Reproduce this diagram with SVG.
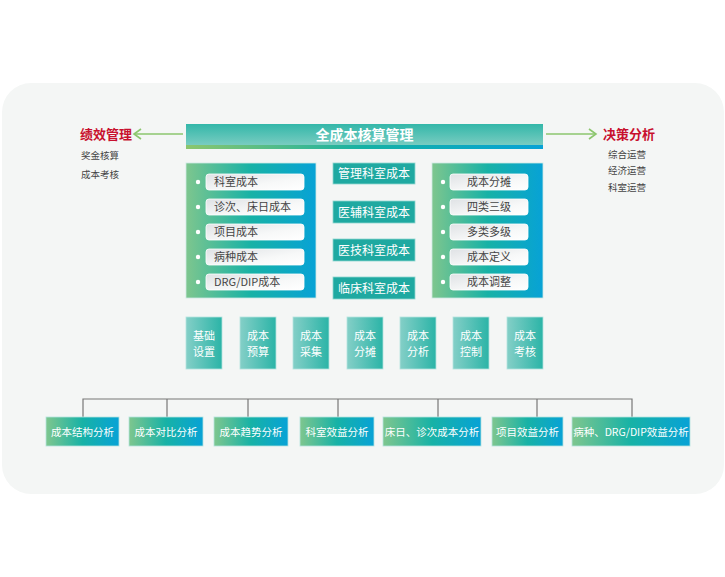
<svg xmlns="http://www.w3.org/2000/svg" width="725" height="577" viewBox="0 0 725 577">
<defs>
<linearGradient id="gPanel" x1="0" y1="0" x2="1" y2="0">
<stop offset="0" stop-color="#7ec68e"/><stop offset="0.5" stop-color="#17b2a6"/><stop offset="1" stop-color="#07a2d6"/>
</linearGradient>
<linearGradient id="gTitle" x1="0" y1="0" x2="0" y2="1">
<stop offset="0" stop-color="#33b7a9"/><stop offset="1" stop-color="#7ccdc2"/>
</linearGradient>
<linearGradient id="gStrip" x1="0" y1="0" x2="1" y2="0">
<stop offset="0" stop-color="#8cc66e"/><stop offset="0.5" stop-color="#15b1a4"/><stop offset="1" stop-color="#07a2d6"/>
</linearGradient>
<linearGradient id="gStep" x1="0" y1="0" x2="1" y2="0">
<stop offset="0" stop-color="#84cfc7"/><stop offset="1" stop-color="#2bb4a7"/>
</linearGradient>
<linearGradient id="gPill" x1="0" y1="0" x2="1" y2="1">
<stop offset="0" stop-color="#dfe2e5"/><stop offset="0.6" stop-color="#f7f8f8"/><stop offset="1" stop-color="#ffffff"/>
</linearGradient>
<marker id="arr" markerWidth="10" markerHeight="12" refX="8" refY="6" orient="auto" markerUnits="userSpaceOnUse">
<path d="M1,1 L8,6 L1,11" fill="none" stroke="#8cc66e" stroke-width="1.6"/>
</marker>
</defs>
<style>
text{font-family:"Noto Sans CJK SC","Noto Sans",sans-serif;}
.head{font-size:13px;font-weight:bold;fill:#c8102e;}
.sub{font-size:9.5px;fill:#444;}
.pill{fill:url(#gPill);stroke:#ffffff;stroke-width:0.8;}
.pt{font-size:11px;fill:#444;}
.dot{fill:#ffffff;}
.mid{fill:#1fa9a1;stroke:#8fd6cf;stroke-width:0.8;}
.wt{fill:#ffffff;font-size:12px;}
.st{fill:#ffffff;font-size:11px;}
.step{fill:url(#gStep);stroke:#b4e3de;stroke-width:0.8;}
.bot{fill:url(#gPanel);stroke:#b4e3de;stroke-width:0.8;}
.bt{fill:#ffffff;font-size:10.5px;}
.conn{stroke:#777;stroke-width:1.2;fill:none;}
.arrow{stroke:#8cc66e;stroke-width:1.6;fill:none;}
</style>
<rect x="0" y="0" width="725" height="577" fill="#ffffff"/>
<rect id="card" x="2" y="83" width="722" height="411" rx="29" fill="#f4f6f5"/>

<g id="title">
<rect x="186" y="124" width="357" height="22" fill="url(#gTitle)"/>
<rect x="186" y="145" width="357" height="4" fill="url(#gStrip)"/>
<text x="364.5" y="139.5" text-anchor="middle" fill="#ffffff" font-size="14" font-weight="bold">全成本核算管理</text>
</g>

<g id="connectors">
<line class="arrow" x1="183" y1="134" x2="134" y2="134" marker-end="url(#arr)"/>
<line class="arrow" x1="546" y1="134" x2="596" y2="134" marker-end="url(#arr)"/>
<path class="conn" d="M83,417 V399 H632 V417 M167,399 V417 M248,399 V417 M338,399 V417 M438,399 V417 M537,399 V417"/>
</g>

<g id="perf">
<text class="head" x="80" y="139">绩效管理</text>
<text class="sub" x="81" y="158.5">奖金核算</text>
<text class="sub" x="81" y="177.5">成本考核</text>
</g>
<g id="decision">
<text class="head" x="603" y="139">决策分析</text>
<text class="sub" x="608" y="157.5">综合运营</text>
<text class="sub" x="608" y="173.5">经济运营</text>
<text class="sub" x="608" y="190.5">科室运营</text>
</g>

<g id="leftPanel">
<rect x="186" y="163" width="130" height="135" fill="url(#gPanel)" stroke="#cde9e4" stroke-width="0.8"/>
<circle class="dot" cx="198" cy="182" r="2.2"/><rect class="pill" x="206" y="174" width="98" height="16" rx="3"/><text class="pt" x="214" y="186">科室成本</text>
<circle class="dot" cx="198" cy="207" r="2.2"/><rect class="pill" x="206" y="199" width="98" height="16" rx="3"/><text class="pt" x="214" y="211">诊次、床日成本</text>
<circle class="dot" cx="198" cy="232" r="2.2"/><rect class="pill" x="206" y="224" width="98" height="16" rx="3"/><text class="pt" x="214" y="236">项目成本</text>
<circle class="dot" cx="198" cy="257" r="2.2"/><rect class="pill" x="206" y="249" width="98" height="16" rx="3"/><text class="pt" x="214" y="261">病种成本</text>
<circle class="dot" cx="198" cy="282" r="2.2"/><rect class="pill" x="206" y="274" width="98" height="16" rx="3"/><text class="pt" x="214" y="286">DRG/DIP成本</text>
</g>

<g id="midCol">
<rect class="mid" x="333" y="163" width="82" height="21"/><text class="wt" x="374" y="178" text-anchor="middle">管理科室成本</text>
<rect class="mid" x="333" y="201" width="82" height="22"/><text class="wt" x="374" y="216.5" text-anchor="middle">医辅科室成本</text>
<rect class="mid" x="333" y="239" width="82" height="22"/><text class="wt" x="374" y="254.5" text-anchor="middle">医技科室成本</text>
<rect class="mid" x="333" y="277" width="82" height="22"/><text class="wt" x="374" y="292.5" text-anchor="middle">临床科室成本</text>
</g>

<g id="rightPanel">
<rect x="432" y="163" width="111" height="135" fill="url(#gPanel)" stroke="#cde9e4" stroke-width="0.8"/>
<circle class="dot" cx="443" cy="182" r="2.2"/><rect class="pill" x="450" y="174" width="78" height="16" rx="3"/><text class="pt" x="489" y="186" text-anchor="middle">成本分摊</text>
<circle class="dot" cx="443" cy="207" r="2.2"/><rect class="pill" x="450" y="199" width="78" height="16" rx="3"/><text class="pt" x="489" y="211" text-anchor="middle">四类三级</text>
<circle class="dot" cx="443" cy="232" r="2.2"/><rect class="pill" x="450" y="224" width="78" height="16" rx="3"/><text class="pt" x="489" y="236" text-anchor="middle">多类多级</text>
<circle class="dot" cx="443" cy="257" r="2.2"/><rect class="pill" x="450" y="249" width="78" height="16" rx="3"/><text class="pt" x="489" y="261" text-anchor="middle">成本定义</text>
<circle class="dot" cx="443" cy="282" r="2.2"/><rect class="pill" x="450" y="274" width="78" height="16" rx="3"/><text class="pt" x="489" y="286" text-anchor="middle">成本调整</text>
</g>

<g id="steps">
<g id="step1"><rect class="step" x="186" y="317" width="36" height="52"/><text class="st" x="204" y="340" text-anchor="middle">基础</text><text class="st" x="204" y="356" text-anchor="middle">设置</text></g>
<g id="step2"><rect class="step" x="240" y="317" width="36" height="52"/><text class="st" x="258" y="340" text-anchor="middle">成本</text><text class="st" x="258" y="356" text-anchor="middle">预算</text></g>
<g id="step3"><rect class="step" x="293" y="317" width="36" height="52"/><text class="st" x="311" y="340" text-anchor="middle">成本</text><text class="st" x="311" y="356" text-anchor="middle">采集</text></g>
<g id="step4"><rect class="step" x="347" y="317" width="36" height="52"/><text class="st" x="365" y="340" text-anchor="middle">成本</text><text class="st" x="365" y="356" text-anchor="middle">分摊</text></g>
<g id="step5"><rect class="step" x="400" y="317" width="36" height="52"/><text class="st" x="418" y="340" text-anchor="middle">成本</text><text class="st" x="418" y="356" text-anchor="middle">分析</text></g>
<g id="step6"><rect class="step" x="453" y="317" width="36" height="52"/><text class="st" x="471" y="340" text-anchor="middle">成本</text><text class="st" x="471" y="356" text-anchor="middle">控制</text></g>
<g id="step7"><rect class="step" x="507" y="317" width="36" height="52"/><text class="st" x="525" y="340" text-anchor="middle">成本</text><text class="st" x="525" y="356" text-anchor="middle">考核</text></g>
</g>

<g id="analysis">
<g id="a1"><rect class="bot" x="46" y="417" width="73" height="29"/><text class="bt" x="82.5" y="435.5" text-anchor="middle">成本结构分析</text></g>
<g id="a2"><rect class="bot" x="129" y="417" width="74" height="29"/><text class="bt" x="166" y="435.5" text-anchor="middle">成本对比分析</text></g>
<g id="a3"><rect class="bot" x="214" y="417" width="74" height="29"/><text class="bt" x="251" y="435.5" text-anchor="middle">成本趋势分析</text></g>
<g id="a4"><rect class="bot" x="300" y="417" width="74" height="29"/><text class="bt" x="337" y="435.5" text-anchor="middle">科室效益分析</text></g>
<g id="a5"><rect class="bot" x="383" y="417" width="98" height="29"/><text class="bt" x="432" y="435.5" text-anchor="middle">床日、诊次成本分析</text></g>
<g id="a6"><rect class="bot" x="492" y="417" width="71" height="29"/><text class="bt" x="527.5" y="435.5" text-anchor="middle">项目效益分析</text></g>
<g id="a7"><rect class="bot" x="572" y="417" width="118" height="29"/><text class="bt" x="631" y="435.5" text-anchor="middle">病种、DRG/DIP效益分析</text></g>
</g>
</svg>
